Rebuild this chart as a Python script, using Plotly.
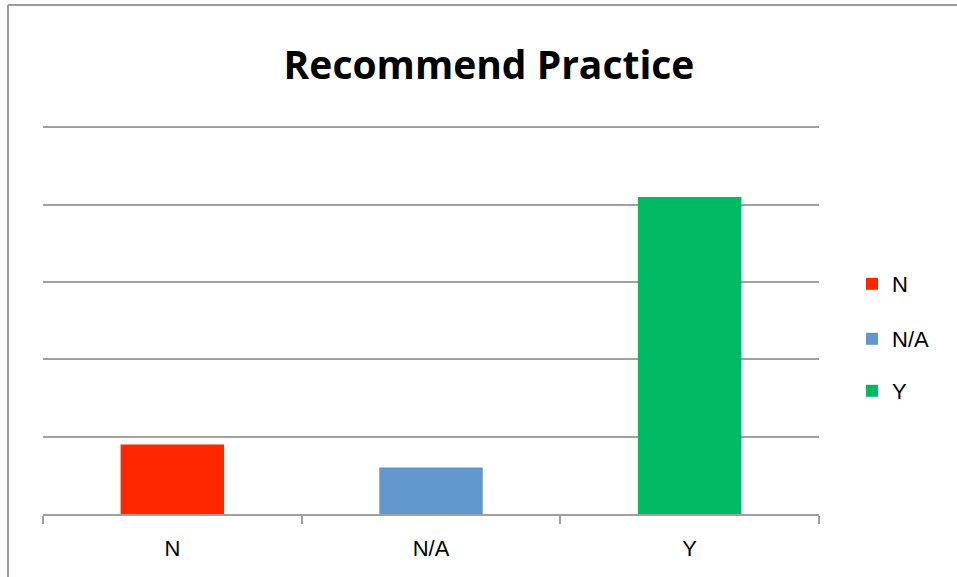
import plotly.graph_objects as go

categories = ["N", "N/A", "Y"]
values = [9, 6, 41]
colors = ["#FF2600", "#6197CC", "#00BA63"]

W, H = 957, 577
YMAX = 50.3
L, R, B = 43, 138, 63
grid_top_px = 127
base_px = H - B
unit_px = (base_px - grid_top_px) / 50.0
T = int(round(base_px - YMAX * unit_px))
pw, ph = W - L - R, H - T - B

fig = go.Figure()
legend_names = ["legend", "legend2", "legend3"]
legend_y_px = [284, 339, 391]
for cat, val, col, lg in zip(categories, values, colors, legend_names):
    fig.add_trace(go.Bar(x=[cat], y=[val], name=cat, marker_color=col,
                         marker_line_width=0, width=0.4, legend=lg))

layout_legends = {}
for lg, ypx in zip(legend_names, legend_y_px):
    layout_legends[lg] = dict(
        x=(852 - L) / pw, xanchor="left",
        y=1 - (ypx - T) / ph, yanchor="middle",
        font=dict(family="Liberation Sans, Arial", size=22, color="#000"),
        bgcolor="rgba(0,0,0,0)", itemwidth=30,
    )

grid_col = "#A0A0A0"
x0p = (8 - L) / pw
ytop = 1 + (T - 5) / ph
fig.update_layout(
    width=W, height=H,
    margin=dict(l=L, r=R, t=T, b=B),
    paper_bgcolor="white", plot_bgcolor="white",
    barmode="overlay",
    title=dict(text="<b>Recommend Practice</b>", x=489 / W, xanchor="center",
               y=1 - 65 / H, yanchor="middle",
               font=dict(family="Open Sans, Lato, sans-serif", size=39, color="#000")),
    xaxis=dict(type="category", categoryorder="array", categoryarray=categories,
               tickson="boundaries", ticks="outside", ticklen=8, tickwidth=2,
               tickcolor=grid_col, showline=True, linecolor=grid_col, linewidth=2,
               showgrid=False, ticklabelstandoff=14,
               tickfont=dict(family="Liberation Sans, Arial", size=22, color="#000")),
    yaxis=dict(range=[0, YMAX], tickvals=[10, 20, 30, 40, 50], showticklabels=False,
               showgrid=True, gridcolor=grid_col, gridwidth=2, zeroline=False,
               showline=False, ticks=""),
    showlegend=True,
    shapes=[
        dict(type="line", xref="paper", yref="paper", x0=x0p, x1=x0p, y0=-0.3, y1=ytop,
             line=dict(color="#9A9A9A", width=2)),
        dict(type="line", xref="paper", yref="paper", x0=x0p, x1=1.3, y0=ytop, y1=ytop,
             line=dict(color="#9A9A9A", width=2)),
    ],
    **layout_legends,
)

fig.write_html("out.html")
